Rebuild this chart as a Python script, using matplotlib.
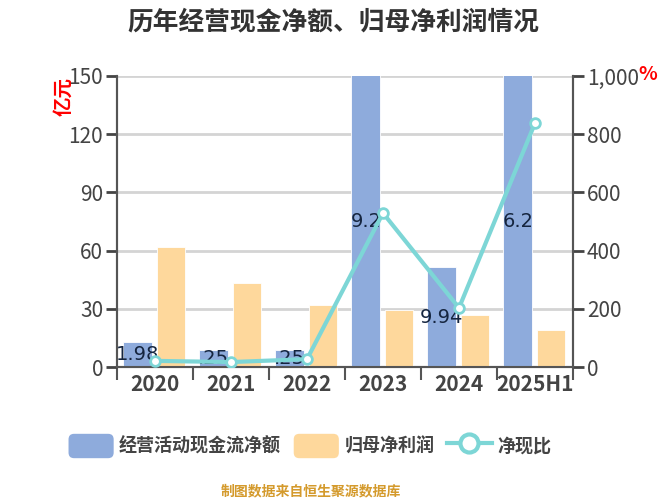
import matplotlib
matplotlib.use("Agg")
import matplotlib.pyplot as plt
from matplotlib.patches import Patch, FancyBboxPatch
from matplotlib.lines import Line2D
from matplotlib.legend_handler import HandlerPatch
import numpy as np

plt.rcParams['font.family'] = ['Noto Sans CJK SC', 'DejaVu Sans']

categories = ["2020", "2021", "2022", "2023", "2024", "2025H1"]
cash_flow = [12.9, 8.6, 8.6, 180.0, 51.5, 165.0]
net_profit = [61.8, 43.3, 31.9, 29.4, 26.8, 19.0]
cash_ratio = [21, 17, 27, 529, 203, 838]
bar_labels = ["1.98", ".25", ".25", "9.2", "9.94", "6.2"]
left_ticks = [0, 30, 60, 90, 120, 150]
right_ticks = [0, 200, 400, 600, 800, 1000]
right_ticklabels = ["0", "200", "400", "600", "800", "1,000"]

title = "历年经营现金净额、归母净利润情况"
series_names = ["经营活动现金流净额", "归母净利润", "净现比"]
source = "制图数据来自恒生聚源数据库"

c_blue = "#8eabdc"
c_orange = "#fed89c"
c_line = "#7dd6d6"
c_text = "#444444"

fig = plt.figure(figsize=(6.67, 5.0), dpi=100)
fig.patch.set_facecolor("white")
ax = fig.add_axes([117/667, 1-367/500, (573-117)/667, (367-76)/500])
ax2 = ax.twinx()

x = np.arange(len(categories))
w = 0.38
ax.bar(x - 0.225, cash_flow, w, color=c_blue, edgecolor="white", linewidth=0.6, zorder=3)
ax.bar(x + 0.21, net_profit, w, color=c_orange, edgecolor="white", linewidth=0.6, zorder=3)

ax.set_xlim(-0.5, len(categories) - 0.5)
ax.set_ylim(0, 150)
ax.set_yticks(left_ticks)
ax.set_yticklabels([str(t) for t in left_ticks])
ax.grid(axis="y", color="#d4d4d4", linewidth=2.0, zorder=0)
ax.set_axisbelow(True)

ax.set_xticks(x)
ax.set_xticklabels(categories)
ax.set_xticks(np.arange(len(categories) + 1) - 0.5, minor=True)
ax.tick_params(axis="x", which="major", length=0, pad=5, labelsize=15, labelcolor=c_text)
ax.tick_params(axis="x", which="minor", length=9, width=1.5, color="#555555")
ax.tick_params(axis="y", length=8, width=2, color="#444444", pad=2, labelsize=15, labelcolor=c_text)
for lab in ax.get_xticklabels():
    lab.set_fontweight("bold")

for i, (v, s) in enumerate(zip(cash_flow, bar_labels)):
    ax.text(i - 0.225, min(v, 150) / 2, s, ha="center", va="center",
            fontsize=14, color="#15253f", zorder=6, family="DejaVu Sans",
            clip_on=True)

ax2.plot(x, cash_ratio, color=c_line, linewidth=3, marker="o", markersize=7,
         markerfacecolor="white", markeredgecolor=c_line, markeredgewidth=2, zorder=5)
ax2.set_ylim(0, 1000)
ax2.set_yticks(right_ticks)
ax2.set_yticklabels(right_ticklabels)
ax2.tick_params(axis="y", length=8, width=2, color="#444444", pad=2, labelsize=15, labelcolor=c_text)

for a in (ax, ax2):
    a.spines["top"].set_visible(False)
    for sp in ("left", "right", "bottom"):
        a.spines[sp].set_color("#555555")
        a.spines[sp].set_linewidth(1.5)

fig.text(333/667, 1 - 22/500, title, ha="center", va="center", fontsize=18.5,
         fontweight="bold", color="#333333")
fig.text(64/667, 1 - 96/500, "亿元", rotation=90, ha="center", va="center",
         fontsize=14, fontweight="bold", color="red")
fig.text(648/667, 1 - 75/500, "%", ha="center", va="center", fontsize=14,
         fontweight="bold", color="red")

class RoundHandler(HandlerPatch):
    def create_artists(self, legend, orig_handle, xdescent, ydescent, width, height, fontsize, trans):
        r = 4
        p = FancyBboxPatch((-xdescent + r, -ydescent + r), width - 2*r, height - 2*r,
                           boxstyle=f"round,pad={r}", facecolor=orig_handle.get_facecolor(),
                           edgecolor="none", transform=trans)
        return [p]

handles = [Patch(facecolor=c_blue), Patch(facecolor=c_orange),
           Line2D([0], [0], color=c_line, linewidth=3, marker="o", markersize=13,
                  markerfacecolor="white", markeredgecolor=c_line, markeredgewidth=3)]
leg = fig.legend(handles, series_names, loc="center", bbox_to_anchor=(310/667, 1 - 446/500),
                 ncol=3, frameon=False, fontsize=13, handlelength=2.5, handleheight=1.7,
                 handletextpad=0.3, columnspacing=0.7,
                 handler_map={Patch: RoundHandler()})
for t in leg.get_texts():
    t.set_color(c_text)
    t.set_fontweight("bold")

fig.text(311/667, 1 - 491/500, source, ha="center", va="center", fontsize=10,
         color="#d49a2c", fontweight="bold")

fig.savefig("out.png", dpi=100, facecolor="white")
